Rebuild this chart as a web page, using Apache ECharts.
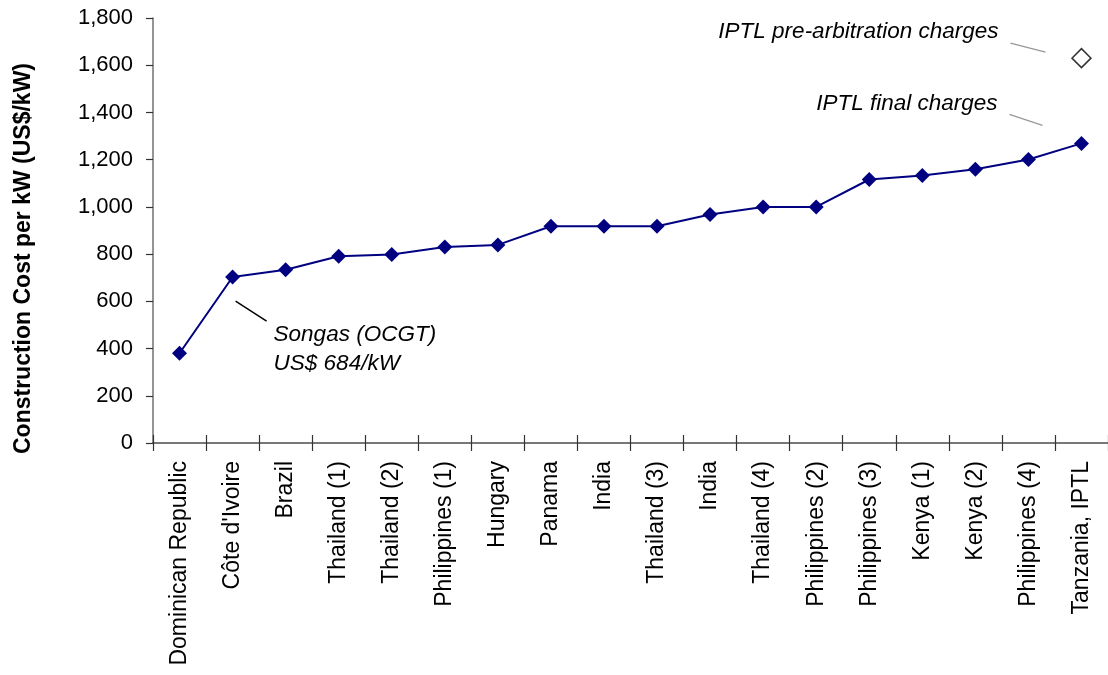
<!DOCTYPE html>
<html>
<head>
<meta charset="utf-8">
<script src="https://cdn.jsdelivr.net/npm/echarts@6/dist/echarts.min.js"></script>
<style>
html,body{margin:0;padding:0;background:#fff;}
#chart{width:1108px;height:675px;}
</style>
</head>
<body>
<div id="chart"></div>
<script>
const categories = ["Dominican Republic","Côte d'Ivoire","Brazil","Thailand (1)","Thailand (2)","Philippines (1)","Hungary","Panama","India","Thailand (3)","India","Thailand (4)","Philippines (2)","Philippines (3)","Kenya (1)","Kenya (2)","Philippines (4)","Tanzania, IPTL"];
const costValues = [380, 703, 734, 791, 798, 830, 839, 918, 918, 918, 968, 1000, 1000, 1116, 1133, 1159, 1201, 1269];
const preArbitrationCategory = "Tanzania, IPTL";
const preArbitrationValue = 1630;
const yTicks = {min: 0, max: 1800, interval: 200};
const axisTitle = "Construction Cost per kW (US$/kW)";
const notes = {
  songas: ["Songas (OCGT)", "US$ 684/kW"],
  pre: "IPTL pre-arbitration charges",
  fin: "IPTL final charges"
};

const FONT = "Liberation Sans, Arial, sans-serif";
const chart = echarts.init(document.getElementById('chart'), null, {renderer: 'canvas'});

const axisGray = '#707070';
const gridBox = {left: 153, right: -6, top: 18, bottom: 232, containLabel: false};
chart.setOption({
  animation: false,
  backgroundColor: '#fff',
  grid: [Object.assign({}, gridBox), Object.assign({}, gridBox)],
  xAxis: [{
    type: 'category',
    gridIndex: 0,
    data: categories,
    position: 'bottom',
    boundaryGap: true,
    axisLine: {show: true, lineStyle: {color: axisGray, width: 1.5}},
    axisTick: {show: true, interval: 0, length: 8, inside: false, lineStyle: {color: '#333', width: 1.2}},
    axisLabel: {rotate: 90, margin: 18, fontSize: 23, color: '#000', fontFamily: FONT, interval: 0},
    splitLine: {show: false}
  }, {
    type: 'category',
    gridIndex: 1,
    data: categories,
    position: 'bottom',
    boundaryGap: true,
    axisLine: {show: true, lineStyle: {color: axisGray, width: 1.5}},
    axisTick: {show: true, interval: 0, length: 8, inside: true, lineStyle: {color: '#333', width: 1.2}},
    axisLabel: {show: true, interval: 0, color: 'rgba(0,0,0,0)', fontSize: 23, rotate: 90, margin: 18},
    splitLine: {show: false}
  }],
  yAxis: [{
    type: 'value',
    gridIndex: 0,
    min: yTicks.min, max: yTicks.max, interval: yTicks.interval,
    name: axisTitle,
    nameLocation: 'middle',
    nameGap: 118,
    nameRotate: 90,
    nameTextStyle: {fontSize: 23, fontWeight: 'bold', color: '#000', fontFamily: FONT, padding: [0, 56, 0, 0]},
    axisLine: {show: true, lineStyle: {color: axisGray, width: 1.5}},
    axisTick: {show: true, length: 7, lineStyle: {color: '#333', width: 1.2}},
    axisLabel: {margin: 20, fontSize: 22, color: '#000', fontFamily: FONT,
      formatter: v => v.toLocaleString('en-US')},
    splitLine: {show: false}
  }, {
    type: 'value',
    gridIndex: 1,
    min: yTicks.min, max: yTicks.max, interval: yTicks.interval,
    axisLine: {show: false}, axisTick: {show: false}, axisLabel: {show: false}, splitLine: {show: false}
  }],
  series: [{
    type: 'line',
    xAxisIndex: 0, yAxisIndex: 0,
    data: costValues,
    symbol: 'diamond',
    symbolSize: 15,
    lineStyle: {color: '#000080', width: 2},
    itemStyle: {color: '#000080'},
    z: 3
  }, {
    type: 'scatter',
    xAxisIndex: 0, yAxisIndex: 0,
    data: [[preArbitrationCategory, preArbitrationValue]],
    symbol: 'diamond',
    symbolSize: 19,
    itemStyle: {color: '#fff', borderColor: '#000', borderWidth: 1.5},
    z: 4
  }, {
    type: 'line',
    xAxisIndex: 1, yAxisIndex: 1,
    data: costValues,
    showSymbol: false,
    silent: true,
    lineStyle: {opacity: 0},
    z: 0
  }]
});

// Annotations anchored to data points
const pCote = chart.convertToPixel({seriesIndex: 0}, [1, costValues[1]]);
const lastIdx = costValues.length - 1;
const pTan = chart.convertToPixel({seriesIndex: 0}, [lastIdx, costValues[lastIdx]]);
const pPre = chart.convertToPixel({seriesIndex: 1}, [preArbitrationCategory, preArbitrationValue]);

const txt = {fontSize: 22.5, fontStyle: 'italic', fontFamily: FONT, fill: '#000'};
chart.setOption({
  graphic: [
    {type: 'line', shape: {x1: pCote[0] + 3, y1: pCote[1] + 24, x2: pCote[0] + 34, y2: pCote[1] + 44},
     style: {stroke: '#000', lineWidth: 1.5}},
    {type: 'text', x: pCote[0] + 41, y: pCote[1] + 58,
     style: Object.assign({text: notes.songas[0], textAlign: 'left', textVerticalAlign: 'middle'}, txt)},
    {type: 'text', x: pCote[0] + 41, y: pCote[1] + 87,
     style: Object.assign({text: notes.songas[1], textAlign: 'left', textVerticalAlign: 'middle'}, txt)},
    {type: 'line', shape: {x1: pPre[0] - 71, y1: pPre[1] - 15, x2: pPre[0] - 36, y2: pPre[1] - 6},
     style: {stroke: '#999', lineWidth: 1.5}},
    {type: 'text', x: pPre[0] - 83, y: pPre[1] - 26,
     style: Object.assign({text: notes.pre, textAlign: 'right', textVerticalAlign: 'middle'}, txt)},
    {type: 'line', shape: {x1: pTan[0] - 72, y1: pTan[1] - 29, x2: pTan[0] - 39, y2: pTan[1] - 18},
     style: {stroke: '#999', lineWidth: 1.5}},
    {type: 'text', x: pTan[0] - 84, y: pTan[1] - 40,
     style: Object.assign({text: notes.fin, textAlign: 'right', textVerticalAlign: 'middle'}, txt)}
  ]
});
</script>
</body>
</html>
